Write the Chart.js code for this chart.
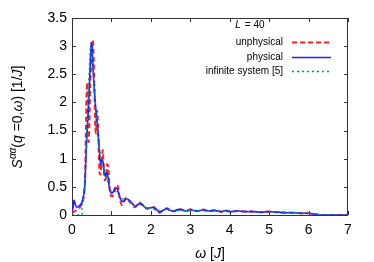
<!DOCTYPE html>
<html>
<head>
<meta charset="utf-8">
<script src="https://cdn.jsdelivr.net/npm/chart.js@4/dist/chart.umd.min.js"></script>
<style>
    html, body { margin: 0; padding: 0; background: #fff; }
    #wrap { width: 374px; height: 262px; }
</style>
</head>
<body>
<div id="wrap"><canvas id="specChart" width="374" height="262"></canvas></div>
<script>
// Data: omega [J] and S(q=0,omega) [1/J]
const omegaUnphys = [0, 0.1, 0.2, 0.26, 0.3, 0.33, 0.35, 0.37, 0.385, 0.40, 0.42, 0.44, 0.46, 0.48, 0.50, 0.53, 0.55, 0.57, 0.59, 0.61, 0.63, 0.65, 0.68, 0.70, 0.72, 0.75, 0.78, 0.80, 0.83, 0.86, 0.89, 0.92, 0.95, 0.98, 1.02, 1.06, 1.1, 1.15, 1.18, 1.22, 1.26, 1.3, 1.36, 1.42, 1.5, 1.57, 1.62, 1.7, 1.76, 1.85, 1.92, 2.0, 2.08, 2.15, 2.22, 2.3, 2.4, 2.5, 2.6, 2.7, 2.8, 2.9, 3.0, 3.1, 3.2, 3.3, 3.4, 3.5, 3.6, 3.7, 3.8, 3.9, 4.0, 4.2, 4.4, 4.6, 4.8, 5.0, 5.2, 5.4, 5.6, 5.8, 6.0, 6.1, 6.2, 6.3, 7.0];
const sUnphys = [0.04, 0.08, 0.14, 0.22, 0.32, 0.6, 1.4, 2.15, 2.35, 1.8, 1.3, 1.6, 2.3, 2.6, 2.85, 3.1, 2.75, 2.2, 1.55, 1.45, 1.85, 1.75, 1.1, 0.74, 0.72, 0.95, 1.15, 0.9, 0.62, 0.65, 0.9, 0.85, 0.5, 0.35, 0.33, 0.4, 0.5, 0.53, 0.42, 0.27, 0.18, 0.2, 0.3, 0.27, 0.21, 0.14, 0.15, 0.22, 0.19, 0.13, 0.11, 0.13, 0.14, 0.08, 0.04, 0.08, 0.12, 0.08, 0.07, 0.11, 0.09, 0.07, 0.1, 0.08, 0.07, 0.1, 0.08, 0.07, 0.09, 0.07, 0.06, 0.08, 0.06, 0.07, 0.06, 0.06, 0.05, 0.06, 0.05, 0.04, 0.04, 0.03, 0.03, 0.02, 0.01, 0.0, 0.0];

const omegaPhys = [0, 0.03, 0.05, 0.08, 0.12, 0.18, 0.24, 0.28, 0.32, 0.35, 0.38, 0.41, 0.44, 0.47, 0.49, 0.51, 0.53, 0.56, 0.59, 0.62, 0.65, 0.68, 0.71, 0.73, 0.76, 0.79, 0.82, 0.85, 0.88, 0.91, 0.95, 0.98, 1.02, 1.07, 1.12, 1.16, 1.2, 1.25, 1.3, 1.36, 1.42, 1.5, 1.57, 1.62, 1.7, 1.76, 1.85, 1.92, 2.0, 2.08, 2.15, 2.22, 2.3, 2.4, 2.5, 2.6, 2.7, 2.8, 2.9, 3.0, 3.1, 3.2, 3.3, 3.4, 3.5, 3.6, 3.7, 3.8, 3.9, 4.0, 4.2, 4.4, 4.6, 4.8, 5.0, 5.2, 5.4, 5.6, 5.8, 6.0, 6.1, 6.2, 6.3, 7.0];
const sPhys = [0.06, 0.15, 0.26, 0.2, 0.14, 0.16, 0.21, 0.3, 0.48, 0.95, 1.45, 1.8, 2.3, 2.8, 3.06, 2.95, 2.65, 2.3, 2.0, 1.75, 1.55, 1.3, 1.0, 0.9, 0.98, 0.93, 0.76, 0.68, 0.76, 0.68, 0.48, 0.4, 0.39, 0.44, 0.48, 0.44, 0.34, 0.26, 0.24, 0.28, 0.28, 0.23, 0.17, 0.16, 0.2, 0.2, 0.14, 0.12, 0.13, 0.13, 0.09, 0.05, 0.08, 0.11, 0.08, 0.07, 0.1, 0.09, 0.07, 0.09, 0.08, 0.07, 0.09, 0.08, 0.07, 0.08, 0.07, 0.06, 0.08, 0.06, 0.07, 0.06, 0.06, 0.05, 0.06, 0.05, 0.04, 0.04, 0.03, 0.03, 0.02, 0.01, 0.0, 0.0];

const omegaInf = [0, 0.25, 0.25, 0.3, 0.35, 0.4, 0.44, 0.47, 0.5, 0.55, 0.6, 0.65, 0.7, 0.75, 0.8, 0.85, 0.9, 0.95, 1.0, 1.1, 1.2, 1.3, 1.4, 1.5, 1.6, 1.7, 1.8, 1.9, 2.0, 2.2, 2.4, 2.6, 2.8, 3.0, 3.5, 4.0, 4.5, 5.0, 5.5, 6.0, 6.2, 6.3, 7.0];
const sInf = [0, 0, 0.12, 0.35, 1.0, 1.9, 2.6, 3.0, 2.9, 2.4, 1.9, 1.5, 1.15, 0.95, 0.82, 0.72, 0.62, 0.5, 0.42, 0.42, 0.35, 0.28, 0.28, 0.22, 0.17, 0.19, 0.16, 0.12, 0.12, 0.08, 0.09, 0.08, 0.08, 0.08, 0.07, 0.07, 0.06, 0.06, 0.05, 0.03, 0.02, 0.0, 0.0];

const xTicks = [0, 1, 2, 3, 4, 5, 6, 7];
const yTicks = [0, 0.5, 1, 1.5, 2, 2.5, 3, 3.5];

const seriesNames = ["unphysical", "physical", "infinite system [5]"];
const legendTitle = "L = 40";

const FONT = "'Liberation Sans', Arial, sans-serif";

function toPoints(xs, ys) {
    return xs.map((x, i) => ({ x: x, y: ys[i] }));
}

// Frame, inward ticks and mirrored ticks, like gnuplot
const framePlugin = {
    id: 'frame',
    beforeDatasetsDraw(chart) {
        const { ctx, chartArea: a, scales } = chart;
        ctx.save();
        ctx.strokeStyle = '#333';
        ctx.lineWidth = 1;
        ctx.strokeRect(a.left + 0.5, a.top + 0.5, a.right - a.left - 1, a.bottom - a.top);
        ctx.beginPath();
        xTicks.forEach(v => {
            const px = Math.round(scales.x.getPixelForValue(v)) + 0.5;
            ctx.moveTo(px, a.bottom); ctx.lineTo(px, a.bottom - 4);
            ctx.moveTo(px, a.top); ctx.lineTo(px, a.top + 4);
        });
        yTicks.forEach(v => {
            const py = Math.round(scales.y.getPixelForValue(v)) + 0.5;
            ctx.moveTo(a.left, py); ctx.lineTo(a.left + 4, py);
            ctx.moveTo(a.right, py); ctx.lineTo(a.right - 4, py);
        });
        ctx.stroke();
        ctx.restore();
    }
};

// draws a run of [text, italic, sizeScale, yShift] pieces starting at x
function drawRuns(ctx, runs, x, y, size) {
    runs.forEach(r => {
        ctx.font = (r[1] ? 'italic ' : '') + Math.round(size * (r[2] || 1)) + 'px ' + FONT;
        ctx.fillText(r[0], x, y + (r[3] || 0));
        x += ctx.measureText(r[0]).width;
    });
}
function runsWidth(ctx, runs, size) {
    let w = 0;
    runs.forEach(r => {
        ctx.font = (r[1] ? 'italic ' : '') + Math.round(size * (r[2] || 1)) + 'px ' + FONT;
        w += ctx.measureText(r[0]).width;
    });
    return w;
}

const labelsPlugin = {
    id: 'labels',
    afterDraw(chart) {
        const ctx = chart.ctx;
        ctx.save();
        ctx.fillStyle = '#000';
        ctx.textBaseline = 'alphabetic';

        // y axis title
        const yRuns = [["S", true], ["αα", true, 0.72, -6], ["(", false], ["q", true], [" =0,", false], ["ω", true], [") [1/", false], ["J", true], ["]", false]];
        const ySize = 14;
        const yw = runsWidth(ctx, yRuns, ySize);
        ctx.translate(22, 117);
        ctx.rotate(-Math.PI / 2);
        drawRuns(ctx, yRuns, -yw / 2, 0, ySize);
        ctx.setTransform(1, 0, 0, 1, 0, 0);

        // x axis title
        const xRuns = [["ω", true], [" [", false], ["J", true], ["]", false]];
        const xw = runsWidth(ctx, xRuns, 14);
        drawRuns(ctx, xRuns, 210 - xw / 2, 258, 14);

        // legend
        const lx = 283, sx0 = 292, sx1 = 331;
        const rows = [42, 57, 71];
        ctx.font = 'italic 10px ' + FONT;
        ctx.textAlign = 'center';
        ctx.textBaseline = 'middle';
        ctx.fillText(legendTitle.charAt(0), 238, 25);
        ctx.font = '10px ' + FONT;
        ctx.textAlign = 'left';
        ctx.fillText(legendTitle.slice(1), 242, 25);
        ctx.textAlign = 'right';
        chart.data.datasets.forEach((ds, i) => {
            ctx.fillStyle = '#000';
            ctx.fillText(seriesNames[i], lx, rows[i]);
            ctx.strokeStyle = ds.borderColor;
            ctx.lineWidth = ds.borderWidth;
            ctx.setLineDash(ds.borderDash || []);
            ctx.beginPath();
            ctx.moveTo(sx0, rows[i] + 0.5);
            ctx.lineTo(sx1, rows[i] + 0.5);
            ctx.stroke();
        });
        ctx.restore();
    }
};

const ctx = document.getElementById('specChart').getContext('2d');
new Chart(ctx, {
    type: 'line',
    data: {
        datasets: [
            {
                label: seriesNames[0],
                data: toPoints(omegaUnphys, sUnphys),
                borderColor: '#ff2020',
                borderWidth: 2,
                borderDash: [5, 3],
                pointRadius: 0,
                tension: 0.3,
                order: 3
            },
            {
                label: seriesNames[1],
                data: toPoints(omegaPhys, sPhys),
                borderColor: '#2020ff',
                borderWidth: 1.6,
                pointRadius: 0,
                tension: 0.3,
                order: 2
            },
            {
                label: seriesNames[2],
                data: toPoints(omegaInf, sInf),
                borderColor: '#00a070',
                borderWidth: 1.4,
                borderDash: [2, 3],
                pointRadius: 0,
                tension: 0.2,
                order: 1
            }
        ]
    },
    options: {
        responsive: false,
        animation: false,
        devicePixelRatio: 1,
        layout: { padding: { top: 18, right: 26, left: 0, bottom: 0 } },
        plugins: { legend: { display: false }, tooltip: { enabled: false } },
        scales: {
            x: {
                type: 'linear',
                min: 0, max: 7,
                afterFit: s => { s.height = 47; },
                afterBuildTicks: s => { s.ticks = xTicks.map(v => ({ value: v })); },
                grid: { display: false, drawTicks: false },
                border: { display: false },
                ticks: { color: '#000', padding: 7, font: { family: FONT, size: 14 }, callback: v => String(v) }
            },
            y: {
                type: 'linear',
                min: 0, max: 3.5,
                afterFit: s => { s.width = 72; },
                afterBuildTicks: s => { s.ticks = yTicks.map(v => ({ value: v })); },
                grid: { display: false, drawTicks: false },
                border: { display: false },
                ticks: { color: '#000', padding: 5, font: { family: FONT, size: 14 }, callback: v => String(v) }
            }
        }
    },
    plugins: [framePlugin, labelsPlugin]
});
</script>
</body>
</html>
